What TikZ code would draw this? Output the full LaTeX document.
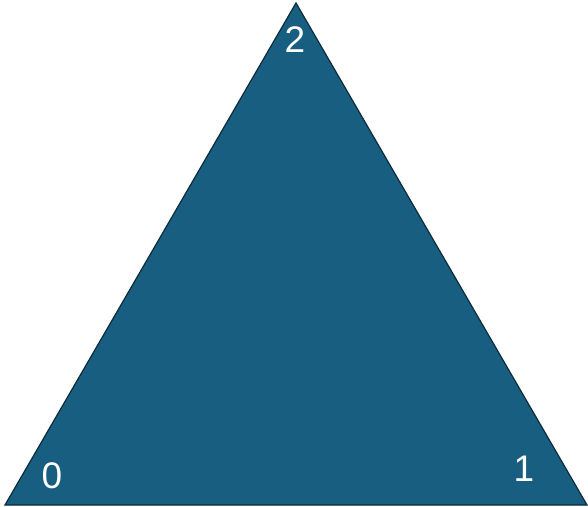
\documentclass[tikz,border=0pt]{standalone}
\usepackage{fontspec}
\setmainfont{Liberation Sans}
\definecolor{trifill}{HTML}{175E80}
\definecolor{triedge}{HTML}{0C2B3B}
\begin{document}
\begin{tikzpicture}[x=1pt,y=1pt,
  lbl/.style={text=white,font=\fontsize{37}{37}\selectfont,inner sep=0pt}]
\useasboundingbox (0,0) rectangle (588,506);
\coordinate (v0) at (5,1);
\coordinate (v1) at (587,1);
\coordinate (v2) at (296,503);
\draw[fill=trifill,draw=triedge,line width=1.2pt,line join=miter] (v0) -- (v1) -- (v2) -- cycle;
\node[lbl] (l2) at (295,466) {2};
\node[lbl] (l0) at (52,30) {0};
\node[lbl] (l1) at (524,37.5) {1};
\end{tikzpicture}
\end{document}
